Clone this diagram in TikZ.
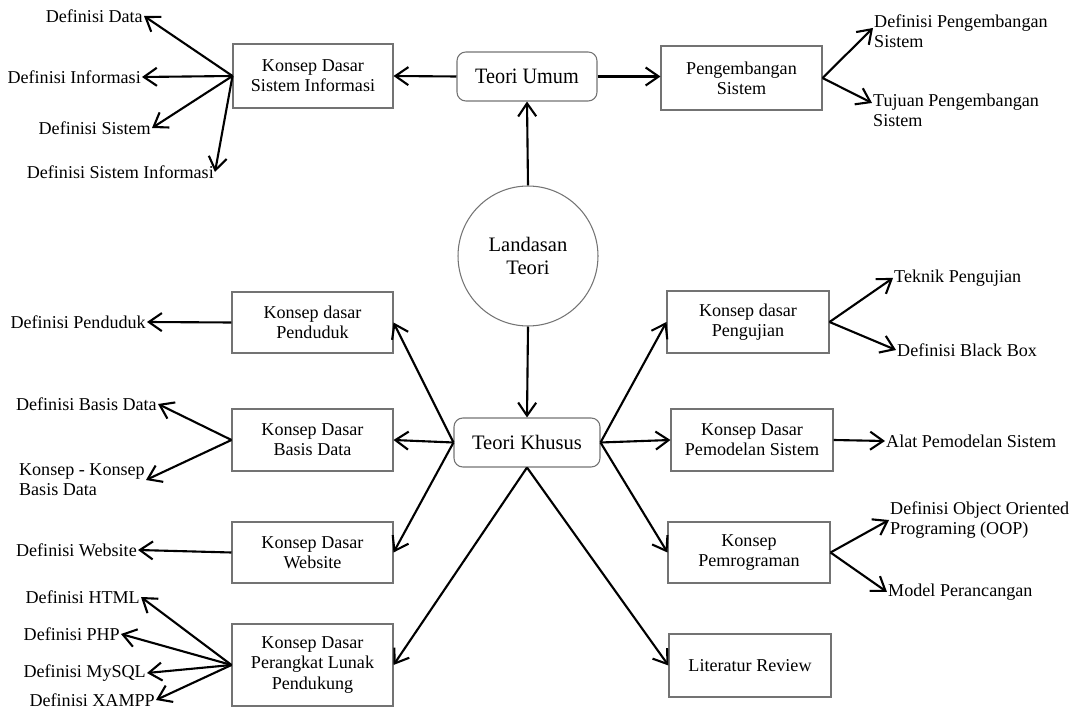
\documentclass[tikz,border=0pt]{standalone}
\usepackage{fontspec}
\setmainfont{Liberation Serif}
\newfontfamily\narrowserif[FakeStretch=0.92]{Liberation Serif}
\usetikzlibrary{arrows.meta}

\newcommand\boxfont{\fontsize{10.3}{11.4}\selectfont}
\newcommand\headfont{\fontsize{11.7}{13}\selectfont}

\tikzset{
  box/.style={draw=black!55, line width=0.6pt, align=center, inner sep=0pt, font=\boxfont},
  rbox/.style={box, rounded corners=5pt},
  leafL/.style={anchor=east, align=left, inner sep=0.5pt, font=\boxfont},
  leafR/.style={anchor=west, align=left, inner sep=0.5pt, font=\boxfont},
  arr/.style={-{Straight Barb[length=2.6mm,width=3.6mm]}, line width=1.2pt, black, line join=round}
}

\begin{document}
\begin{tikzpicture}[x=0.02cm,y=-0.02cm]
\useasboundingbox (0,0) rectangle (1075,712);

% central nodes
\node[circle, draw=black!55, line width=0.6pt, minimum size=2.8cm, inner sep=0pt,
      align=center, font=\headfont] (lt) at (528,256) {Landasan\\Teori};
\node[rbox, minimum width=2.8cm, minimum height=0.98cm,
      font=\narrowserif\fontsize{12.5}{14}\selectfont] (tu) at (527,76.5) {Teori Umum};
\node[rbox, minimum width=2.92cm, minimum height=0.98cm, font=\headfont] (tk) at (527,442.5) {Teori Khusus};

% general theory
\node[box, minimum width=3.2cm, minimum height=1.28cm] (kdsi) at (313,76) {Konsep Dasar\\Sistem Informasi};
\node[box, minimum width=3.22cm, minimum height=1.28cm] (ps) at (741.5,78) {Pengembangan\\Sistem};

% special theory, left column
\node[box, minimum width=3.22cm, minimum height=1.22cm] (kdp) at (312.5,322.5) {Konsep dasar\\Penduduk};
\node[box, minimum width=3.22cm, minimum height=1.24cm] (kdbd) at (312.5,440) {Konsep Dasar\\Basis Data};
\node[box, minimum width=3.22cm, minimum height=1.22cm] (kdw) at (312.5,552.5) {Konsep Dasar\\Website};
\node[box, minimum width=3.22cm, minimum height=1.64cm] (kdpl) at (312.5,665) {Konsep Dasar\\Perangkat Lunak\\Pendukung};

% special theory, right column
\node[box, minimum width=3.24cm, minimum height=1.24cm] (kdpu) at (748,322) {Konsep dasar\\Pengujian};
\node[box, minimum width=3.24cm, minimum height=1.24cm] (kdps) at (752,440) {Konsep Dasar\\Pemodelan Sistem};
\node[box, minimum width=3.24cm, minimum height=1.22cm] (kp) at (749,552.5) {Konsep\\Pemrograman};
\node[box, minimum width=3.24cm, minimum height=1.26cm] (lr) at (750,665.5) {Literatur Review};

% leaves
\node[leafL] (dd)   at (144,16)  {Definisi Data};
\node[leafL] (di)   at (142,77)  {Definisi Informasi};
\node[leafL] (ds)   at (152,128) {Definisi Sistem};
\node[leafL] (dsi)  at (215,172) {Definisi Sistem Informasi};

\node[leafR] (dps) at (873,31.5) {Definisi Pengembangan\\Sistem};
\node[leafR] (tps) at (872,110)  {Tujuan Pengembangan\\Sistem};

\node[leafL] (dp)   at (147,322) {Definisi Penduduk};
\node[leafL] (dbd)  at (158,404) {Definisi Basis Data};
\node[leafL] (kkbd) at (146,480) {Konsep - Konsep\\Basis Data};
\node[leafL] (dw)   at (138,550) {Definisi Website};
\node[leafL] (dh)   at (141,597) {Definisi HTML};
\node[leafL] (dphp) at (121,634) {Definisi PHP};
\node[leafL] (dm)   at (147,673) {Definisi MySQL};
\node[leafL] (dx)   at (156,700) {Definisi XAMPP};

\node[leafR] (tp)   at (893,278) {Teknik Pengujian};
\node[leafR] (dbb)  at (896,350) {Definisi Black Box};
\node[leafR] (aps)  at (885,441) {Alat Pemodelan Sistem};
\node[leafR] (doop) at (889,520) {Definisi Object Oriented\\Programing (OOP)};
\node[leafR] (mp)   at (887,592) {Model Perancangan};

% connectors of the central spine
\draw[arr] (lt.north) -- (tu.south);
\draw[arr] (lt.south) -- (tk.north);
\draw[arr] (tu.west) -- (kdsi.east);
\draw[arr] (tu.east) -- (tu.east -| ps.west);

\foreach \t in {dd,di,ds,dsi} \draw[arr] (kdsi.west) -- (\t.east);
\draw[arr] (ps.east) -- ([yshift=2pt]dps.west);
\draw[arr] (ps.east) -- ([yshift=4pt]tps.west);

% special theory fan-out
\foreach \t in {kdp,kdbd,kdw} \draw[arr] (tk.west) -- (\t.east);
\draw[arr] (tk.south) -- (kdpl.east);
\draw[arr] (tk.south) -- (lr.west);
\foreach \t in {kdpu,kdps,kp} \draw[arr] (tk.east) -- (\t.west);

\draw[arr] (kdp.west) -- (dp.east);
\foreach \t in {dbd,kkbd} \draw[arr] (kdbd.west) -- (\t.east);
\draw[arr] (kdw.west) -- (dw.east);
\foreach \t in {dh,dphp,dm,dx} \draw[arr] (kdpl.west) -- (\t.east);

\foreach \t in {tp,dbb} \draw[arr] (kdpu.east) -- (\t.west);
\draw[arr] (kdps.east) -- (aps.west);
\foreach \t in {doop,mp} \draw[arr] (kp.east) -- (\t.west);
\end{tikzpicture}
\end{document}
